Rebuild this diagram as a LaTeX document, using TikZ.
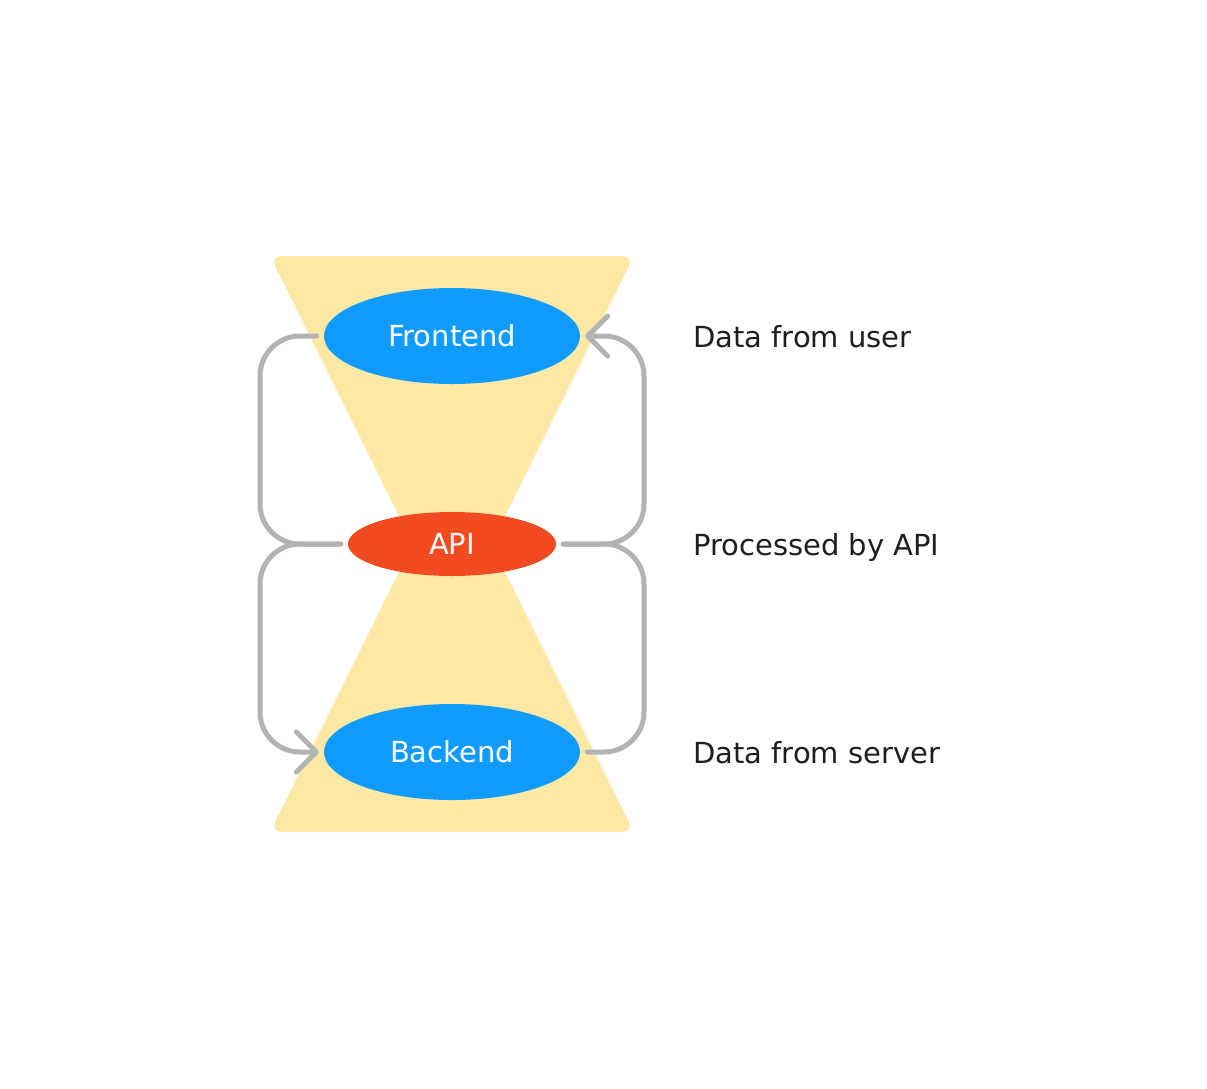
\documentclass[tikz,border=0pt]{standalone}
\usepackage{fontspec}
\setmainfont{DejaVu Sans}
\usetikzlibrary{arrows.meta,shapes.geometric}
\definecolor{sand}{HTML}{FEE8A6}
\definecolor{nodeblue}{HTML}{0F9BFF}
\definecolor{apired}{HTML}{F24A21}
\definecolor{conngray}{HTML}{B3B3B3}
\definecolor{labeltext}{HTML}{1E1E1E}
\tikzset{
  blob/.style={ellipse, inner sep=0pt, text=white, font=\fontsize{29}{34}\selectfont},
  conn/.style={draw=conngray, line width=5pt, line cap=round, line join=round, rounded corners=40pt},
  barb/.style={-{Straight Barb[length=20pt,width=40pt,round]}},
  sidelabel/.style={anchor=base west, text=labeltext, font=\fontsize{29}{34}\selectfont, inner sep=0pt}
}
\begin{document}
\begin{tikzpicture}[x=1pt,y=-1pt]
\useasboundingbox (0,0) rectangle (1207,1088);
\fill[sand, rounded corners=12pt] (270,256) -- (634,256) -- (491,544) -- (634,832) -- (270,832) -- (413,544) -- cycle;
\node[blob, fill=nodeblue, minimum width=256pt, minimum height=96pt] (fe) at (452,336) {Frontend};
\node[blob, fill=apired, minimum width=208pt, minimum height=64pt] (api) at (452,544) {API};
\node[blob, fill=nodeblue, minimum width=256pt, minimum height=96pt] (be) at (452,752) {Backend};
\coordinate (lx) at (260,544);
\coordinate (rx) at (644,544);
\draw[conn] ([xshift=-7pt]fe.west) -| (lx |- api.west) -- ([xshift=-7pt]api.west);
\draw[conn, barb] ([xshift=-7pt]api.west) -| (lx |- be.west) -- ([xshift=-5pt]be.west);
\draw[conn, barb] ([xshift=7pt]api.east) -| (rx |- fe.east) -- ([xshift=5pt]fe.east);
\draw[conn] ([xshift=7pt]be.east) -| (rx |- api.east) -- ([xshift=7pt]api.east);
\node[sidelabel] (l1) at (693,347) {Data from user};
\node[sidelabel] (l2) at (693,555) {Processed by API};
\node[sidelabel] (l3) at (693,763) {Data from server};
\end{tikzpicture}
\end{document}
